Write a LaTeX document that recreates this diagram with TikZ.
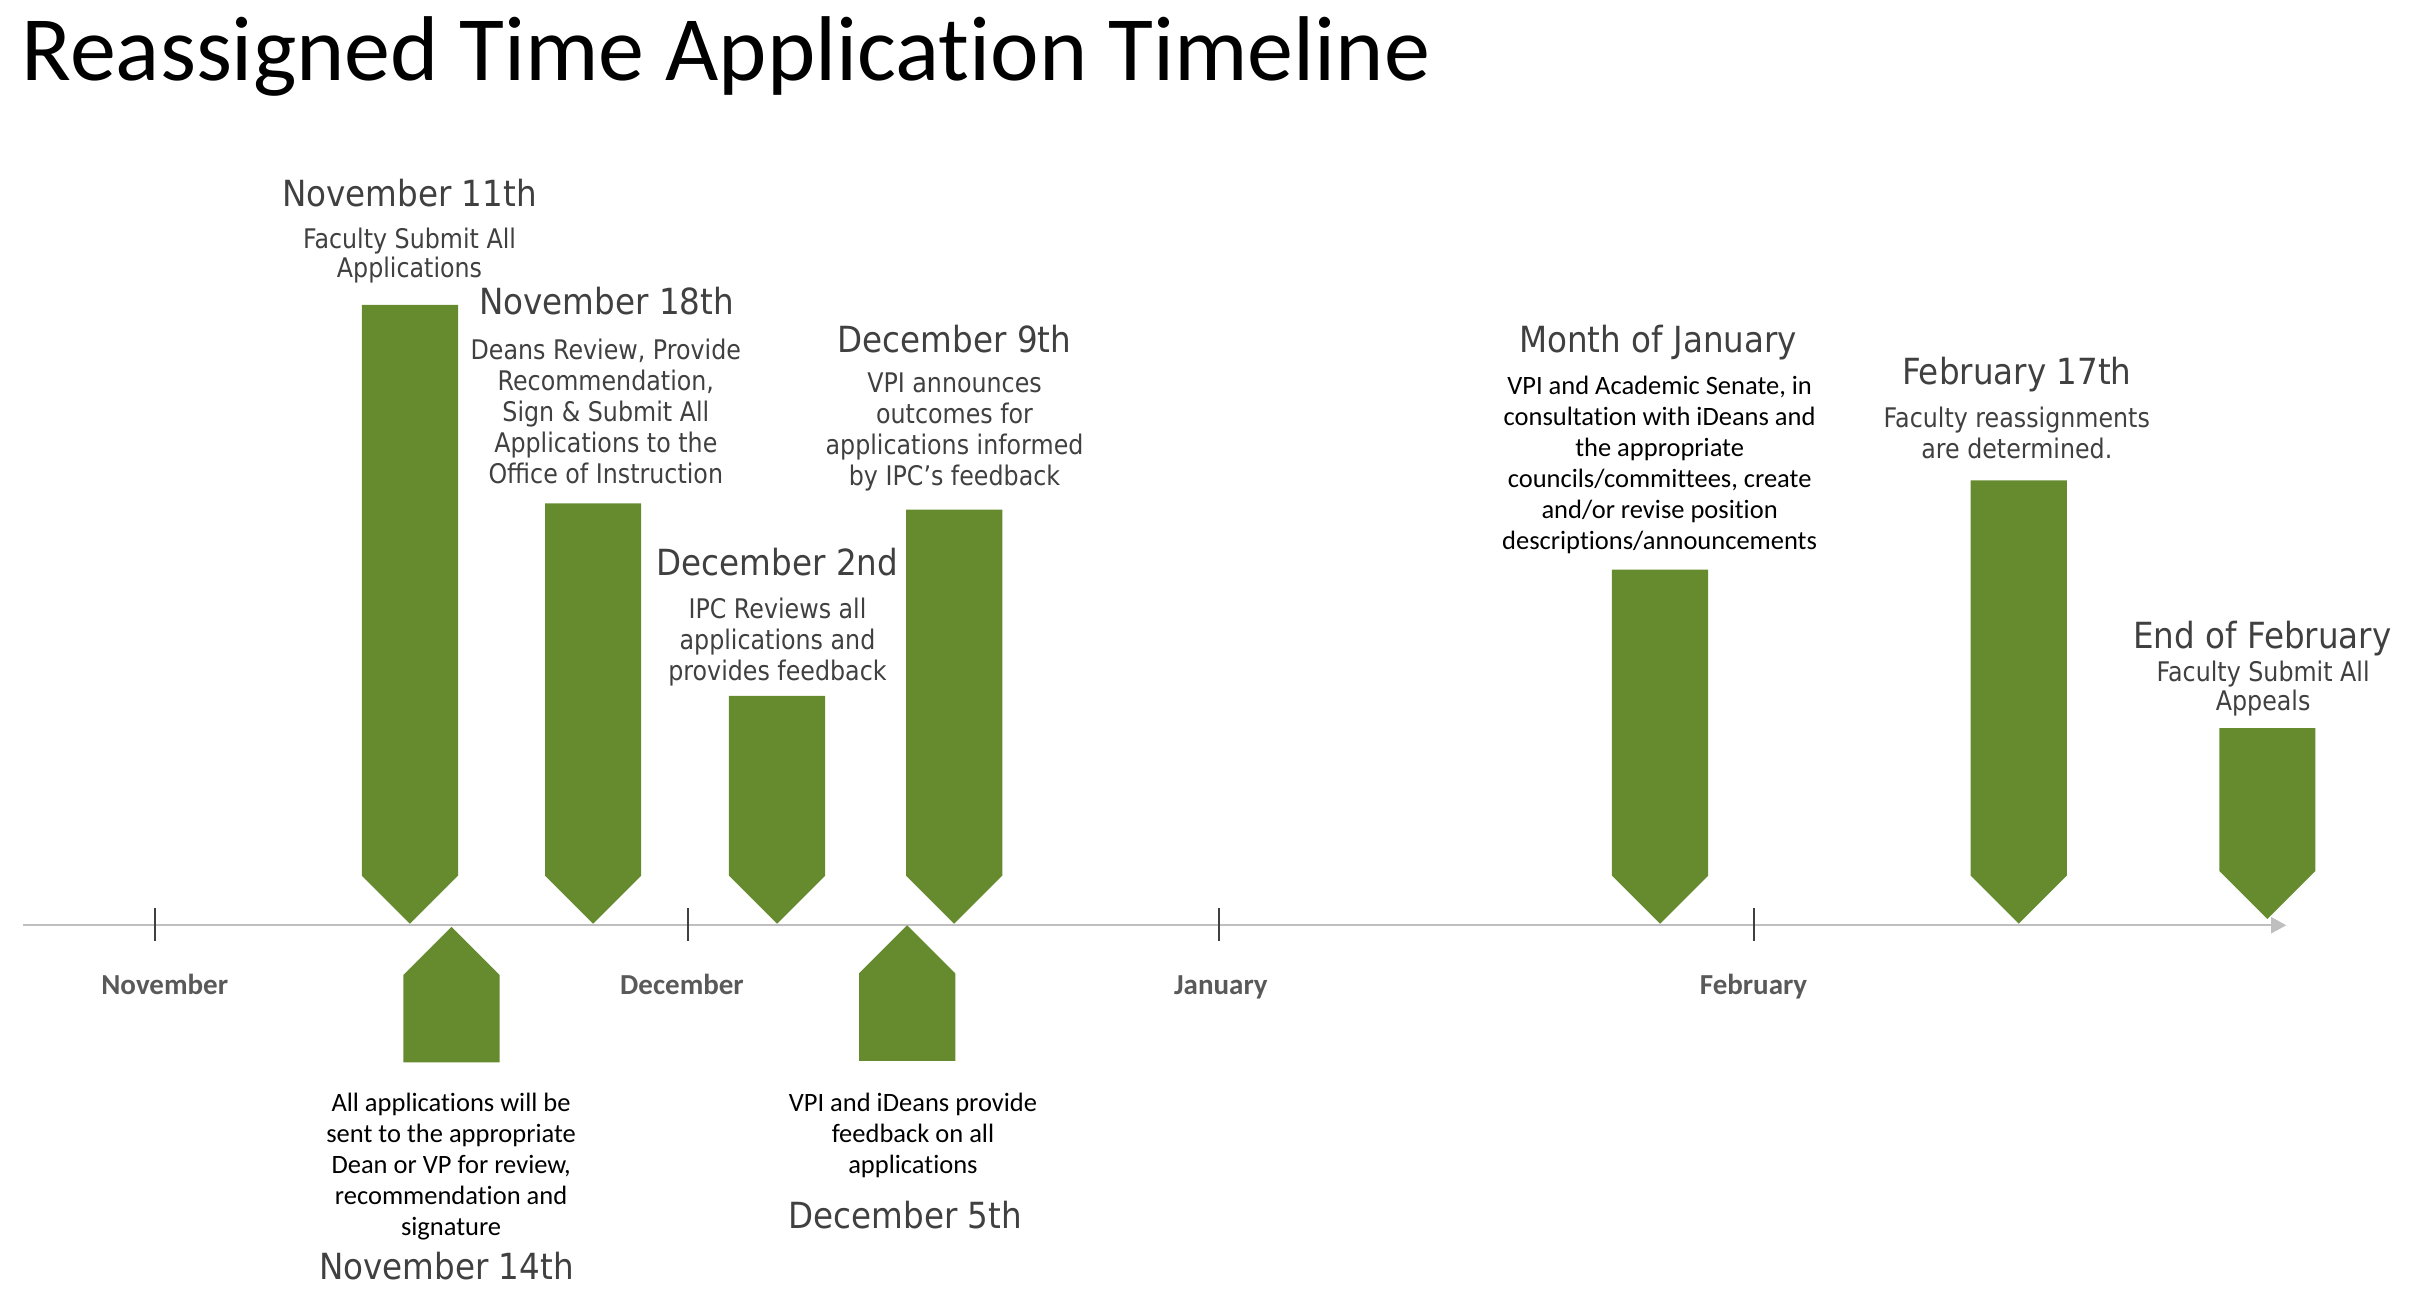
\documentclass[tikz,border=0pt]{standalone}
\usepackage{fontspec}
\setmainfont[Ligatures={NoCommon}]{Carlito}
\newfontfamily\tahfont[FakeStretch=0.88]{DejaVu Sans}
\newfontfamily\tahheadfont[FakeStretch=0.905]{DejaVu Sans}
\newfontfamily\calfont[Ligatures={NoCommon}]{Carlito}
\usetikzlibrary{arrows.meta}
\definecolor{bargreen}{RGB}{101,139,46}
\definecolor{txt}{RGB}{64,64,64}
\definecolor{axisgray}{RGB}{191,191,191}
\definecolor{monthgray}{RGB}{89,89,89}
\begin{document}
\begin{tikzpicture}[x=1.5395pt,y=-1.5395pt,
  title/.style={font=\calfont\fontsize{92}{100}\selectfont, text=black, inner sep=0pt, anchor=base west},
  heading/.style={font=\tahheadfont\fontsize{36}{40}\selectfont, text=txt, inner sep=0pt, anchor=base},
  tdesc/.style={font=\tahfont\fontsize{27}{31}\selectfont, text=txt, inner sep=0pt, anchor=north, align=center},
  tdescb/.style={font=\tahfont\fontsize{27}{29}\selectfont, text=txt, inner sep=0pt, anchor=north, align=center},
  cdesc/.style={font=\calfont\fontsize{26.5}{31}\selectfont, text=black, inner sep=0pt, anchor=north, align=center},
  month/.style={font=\calfont\bfseries\fontsize{29}{31}\selectfont, text=monthgray, inner sep=0pt, anchor=base},
  bar/.style={fill=bargreen, draw=none},
  tickmark/.style={draw=txt, line width=2pt},
  axisline/.style={draw=axisgray, line width=2pt, -{Triangle[length=15pt,width=16pt]}}]
\useasboundingbox (0,0) rectangle (1568,841.8);

% title
\node[title] (title) at (14,52) {Reassigned Time Application Timeline};

% axis
\coordinate (axstart) at (15,601);
\coordinate (axend) at (1485,601);
\draw[axisline] (axstart) -- (axend);

% ticks and months
\foreach \x in {101,447,792,1139}{
  \draw[tickmark] (\x,590) -- (\x,611);
}
\node[month] (mnov) at (107,646) {November};
\node[month] (mdec) at (443,646) {December};
\node[month] (mjan) at (793,646) {January};
\node[month] (mfeb) at (1139,646) {February};

% down arrows: x1, x2, top, tip
\foreach \a/\b/\t/\p in {235/297.5/198/600, 354/416.5/327/600, 473.5/536/452/600, 588.5/651/331/600, 1047/1109.5/370/600, 1280/1342.5/312/600, 1441.5/1504/473/597}{
  \fill[bar] (\a,\t) -- (\b,\t) -- (\b,\p-31.25) -- ({(\a+\b)/2},\p) -- (\a,\p-31.25) -- cycle;
}
% up arrows
\foreach \a/\b/\p/\bt in {262/324.5/602/690, 558/620.5/601/689}{
  \fill[bar] ({(\a+\b)/2},\p) -- (\b,\p+31.25) -- (\b,\bt) -- (\a,\bt) -- (\a,\p+31.25) -- cycle;
}

% November 11th
\node[heading] (h1) at (266,134) {November 11th};
\node[tdescb] (d1) at (266,148) {Faculty Submit All\\Applications};
% November 18th
\node[heading] (h2) at (394,204) {November 18th};
\node[tdesc] (d2) at (393.5,220) {Deans Review, Provide\\Recommendation,\\Sign \& Submit All\\Applications to the\\Office of Instruction};
% December 2nd
\node[heading] (h3) at (505,374) {December 2nd};
\node[tdesc] (d3) at (505,388) {IPC Reviews all\\applications and\\provides feedback};
% December 9th
\node[heading] (h4) at (620,229) {December 9th};
\node[tdesc] (d4) at (620,242) {VPI announces\\outcomes for\\applications informed\\by IPC’s feedback};
% Month of January
\node[heading] (h5) at (1077,229) {Month of January};
\node[cdesc] (d5) at (1078,244) {VPI and Academic Senate, in\\consultation with iDeans and\\the appropriate\\councils/committees, create\\and/or revise position\\descriptions/announcements};
% February 17th
\node[heading] (h6) at (1310,250) {February 17th};
\node[tdesc] (d6) at (1310,264) {Faculty reassignments\\are determined.};
% End of February
\node[heading] (h7) at (1469.5,421) {End of February};
\node[tdescb] (d7) at (1470,429) {Faculty Submit All\\Appeals};
% November 14th (below)
\node[cdesc] (d8) at (293,710) {All applications will be\\sent to the appropriate\\Dean or VP for review,\\recommendation and\\signature};
\node[heading] (h8) at (290,831) {November 14th};
% December 5th (below)
\node[cdesc] (d9) at (593,710) {VPI and iDeans provide\\feedback on all\\applications};
\node[heading] (h9) at (588,798) {December 5th};
\end{tikzpicture}
\end{document}
